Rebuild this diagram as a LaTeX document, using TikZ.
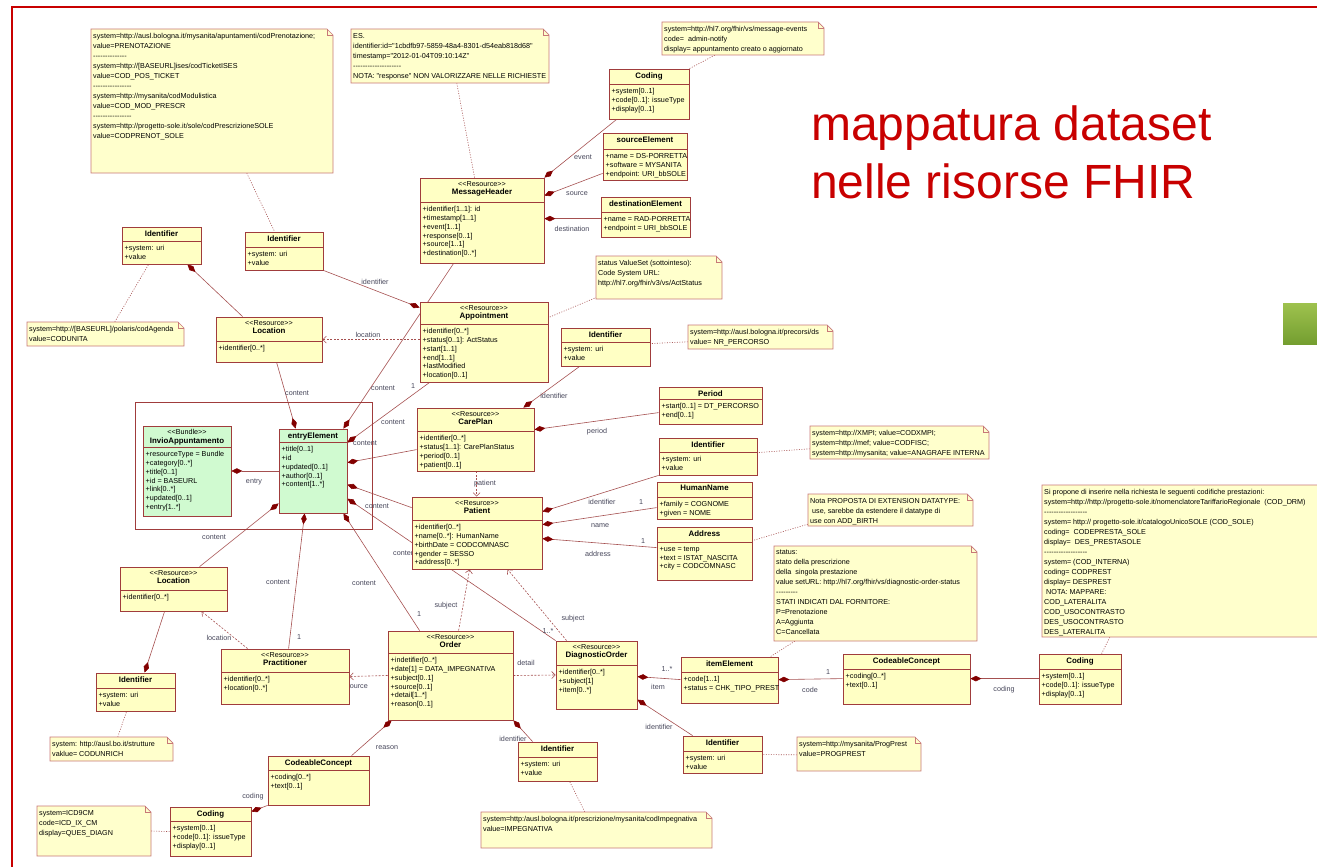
\documentclass[tikz,border=0pt]{standalone}
\usepackage{fontspec}
\usepackage{tikz}
\usetikzlibrary{positioning, arrows.meta, calc, fit}

\newfontfamily\umlfont{Liberation Sans}

\definecolor{classfill}{RGB}{255,255,196}
\definecolor{notefill}{RGB}{255,255,204}
\definecolor{greenfill}{RGB}{208,250,208}
\definecolor{boxred}{RGB}{160,60,60}
\definecolor{notered}{RGB}{200,120,120}
\definecolor{linered}{RGB}{165,80,80}
\definecolor{diamondred}{RGB}{130,0,0}
\definecolor{labelgray}{RGB}{70,70,90}
\definecolor{framered}{RGB}{200,0,0}
\definecolor{greenA}{RGB}{158,194,78}
\definecolor{greenB}{RGB}{116,158,48}

\pgfdeclarelayer{bg}
\pgfsetlayers{bg,main}

\tikzset{
	classbox/.style={draw=boxred, line width=0.8pt, inner sep=0pt},
	boxline/.style={draw=boxred, line width=0.8pt},
	headtext/.style={font=\umlfont\fontsize{7.2}{8.7}\selectfont, align=center, inner xsep=0pt, inner ysep=3.5pt},
	attrtext/.style={font=\umlfont\fontsize{7.2}{8.7}\selectfont, align=left, inner xsep=2.5pt, inner ysep=4.5pt},
	notebox/.style={draw=notered, fill=notefill, line width=0.7pt},
	notefold/.style={draw=notered, line width=0.7pt},
	notetext/.style={font=\umlfont\fontsize{7.2}{10}\selectfont, align=left, inner xsep=2pt, inner ysep=4pt},
	comp/.style={draw=linered, line width=0.6pt, -{Diamond[length=11pt,width=5.5pt,color=diamondred]}},
	dep/.style={draw=linered, line width=0.6pt, dash pattern=on 2pt off 1.5pt, -{Straight Barb[length=3.5pt,width=7pt]}},
	anchorline/.style={draw=linered, line width=0.6pt, dash pattern=on 1pt off 1.5pt},
	lbl/.style={font=\umlfont\fontsize{7.2}{8.7}\selectfont, text=labelgray, inner sep=0pt},
	titletext/.style={font=\umlfont\fontsize{48}{58}\selectfont, text=framered, inner sep=0pt},
}

\newcommand{\cname}[1]{{\fontsize{7.9}{8.7}\selectfont\bfseries #1}}

\newcommand{\umlclass}[9][classfill]{%
	\node[classbox, fill=#1, fit={(#3,#4) (#5,#6)}] (#2) {};
	\draw[boxline] (#3,#7) -- (#5,#7);
	\node[headtext, anchor=north] (#2-h) at (#2.north) {#8};
	\node[attrtext, anchor=north west] (#2-a) at (#3,#7) {#9};
}

\newcommand{\umlnote}[6]{%
	\node[inner sep=0pt, fit={(#2,#3) (#4,#5)}] (#1) {};
	\path[notebox] (#2,#3) -- (#4-6,#3) -- (#4,#3+6) -- (#4,#5) -- (#2,#5) -- cycle;
	\draw[notefold] (#4-6,#3) -- (#4-6,#3+6) -- (#4,#3+6);
	\node[notetext, anchor=north west] (#1-t) at (#2,#3) {#6};
}

\begin{document}
\begin{tikzpicture}[x=1pt, y=-1pt]
	\useasboundingbox (0,0) rectangle (1317,867);
	\draw[framered, line width=2.2pt] (12,870) -- (12,7) -- (1320,7);
	\shade[top color=greenA, bottom color=greenB] (1283,303) rectangle (1320,344);
	
	\node[titletext, anchor=base west] (title1) at (811,140) {mappatura dataset};
	\node[titletext, anchor=base west] (title2) at (811,198) {nelle risorse FHIR};
	
	\node[draw=boxred, line width=0.6pt, inner sep=0pt, fit={(135,402) (372,529)}] (bundlepkg) {};
	
	% notes
	\umlnote{n1}{91}{29}{333}{173}{system=http://ausl.bologna.it/mysanita/apuntamenti/codPrenotazione;\\value=PRENOTAZIONE\\--------------\\system=http://[BASEURL]ises/codTicketISES\\value=COD\_POS\_TICKET\\----------------\\system=http://mysanita/codModulistica\\value=COD\_MOD\_PRESCR\\----------------\\system=http://progetto-sole.it/sole/codPrescrizioneSOLE\\value=CODPRENOT\_SOLE}
	\umlnote{n2}{351}{29}{549}{83}{ES.\\identifier:id="1cbdfb97-5859-48a4-8301-d54eab818d68"\\timestamp="2012-01-04T09:10:14Z"\\--------------------\\NOTA: "response" NON VALORIZZARE NELLE RICHIESTE}
	\umlnote{n3}{662}{22}{824}{55}{system=http://hl7.org/fhir/vs/message-events\\code=\ \ admin-notify\\display= appuntamento creato o aggiornato}
	\umlnote{n4}{596}{256}{722}{299}{status ValueSet (sottointeso):\\Code System URL:\\http://hl7.org/fhir/v3/vs/ActStatus}
	\umlnote{n5}{27}{322}{184}{346}{system=http://[BASEURL]/polaris/codAgenda\\value=CODUNITA}
	\umlnote{n6}{688}{325}{833}{349}{system=http://ausl.bologna.it/precorsi/ds\\value= NR\_PERCORSO}
	\umlnote{n7}{810}{426}{989}{459}{system=http://XMPI; value=CODXMPI;\\system=http://mef; value=CODFISC;\\system=http://mysanita; value=ANAGRAFE INTERNA}
	\umlnote{n8}{808}{494}{973}{526}{Nota PROPOSTA DI EXTENSION DATATYPE:\\\ use, sarebbe da estendere il datatype di\\use con ADD\_BIRTH}
	\umlnote{n9}{774}{546}{977}{641}{status:\\stato della prescrizione\\della\ \ singola prestazione\\value setURL: http://hl7.org/fhir/vs/diagnostic-order-status\\---------\\STATI INDICATI DAL FORNITORE:\\P=Prenotazione\\A=Aggiunta\\C=Cancellata}
	\umlnote{n10}{1042}{485}{1330}{637}{Si propone di inserire nella richiesta le seguenti codifiche prestazioni:\\system=http://http://progetto-sole.it/nomenclatoreTariffarioRegionale\ \ (COD\_DRM)\\------------------\\system= http:// progetto-sole.it/catalogoUnicoSOLE (COD\_SOLE)\\coding=\ \ CODEPRESTA\_SOLE\\display=\ \ DES\_PRESTASOLE\\------------------\\system= (COD\_INTERNA)\\coding= CODPREST\\display= DESPREST\\\ NOTA: MAPPARE:\\COD\_LATERALITA\\COD\_USOCONTRASTO\\DES\_USOCONTRASTO\\DES\_LATERALITA}
	\umlnote{n11}{50}{737}{173}{761}{system: http://ausl.bo.it/strutture\\vaklue= CODUNRICH}
	\umlnote{n12}{797}{737}{921}{771}{system=http://mysanita/ProgPrest\\value=PROGPREST}
	\umlnote{n13}{481}{812}{712}{848}{system=http:/ausl.bologna.it/prescrizione/mysanita/codImpegnativa\\value=IMPEGNATIVA}
	\umlnote{n14}{37}{806}{151}{856}{system=ICD9CM\\code=ICD\_IX\_CM\\display=QUES\_DIAGN}
	
	% classes
	\umlclass{coding1}{609}{69}{689}{119}{84}{\cname{Coding}}{+system[0..1]\\+code[0..1]: issueType\\+display[0..1]}
	\umlclass{srcel}{603}{133}{687}{180}{149}{\cname{sourceElement}}{+name = DS-PORRETTA\\+software = MYSANITA\\+endpoint: URI\_bbSOLE}
	\umlclass{dstel}{601}{197}{690}{237}{212}{\cname{destinationElement}}{+name = RAD-PORRETTA\\+endpoint = URI\_bbSOLE}
	\umlclass{msghdr}{420}{178}{544}{263}{202}{<<Resource>>\\\cname{MessageHeader}}{+identifier[1..1]: id\\+timestamp[1..1]\\+event[1..1]\\+response[0..1]\\+source[1..1]\\+destination[0..*]}
	\umlclass{ident1}{122}{227}{201}{264}{241}{\cname{Identifier}}{+system: uri\\+value}
	\umlclass{ident2}{245}{232}{323}{270}{247}{\cname{Identifier}}{+system: uri\\+value}
	\umlclass{loc1}{216}{317}{322}{362}{341}{<<Resource>>\\\cname{Location}}{+identifier[0..*]}
	\umlclass{appt}{420}{302}{548}{382}{324}{<<Resource>>\\\cname{Appointment}}{+identifier[0..*]\\+status[0..1]: ActStatus\\+start[1..1]\\+end[1..1]\\+lastModified\\+location[0..1]}
	\umlclass{ident3}{561}{328}{650}{366}{342}{\cname{Identifier}}{+system: uri\\+value}
	\umlclass{period}{659}{387}{762}{424}{399}{\cname{Period}}{+start[0..1] = DT\_PERCORSO\\+end[0..1]}
	\umlclass{careplan}{417}{408}{534}{471}{431}{<<Resource>>\\\cname{CarePlan}}{+identifier[0..*]\\+status[1..1]: CarePlanStatus\\+period[0..1]\\+patient[0..1]}
	\umlclass{ident4}{659}{438}{757}{475}{452}{\cname{Identifier}}{+system: uri\\+value}
	\umlclass{hname}{657}{482}{752}{519}{497}{\cname{HumanName}}{+family = COGNOME\\+given = NOME}
	\umlclass{addr}{657}{527}{752}{580}{542}{\cname{Address}}{+use = temp\\+text = ISTAT\_NASCITA\\+city = CODCOMNASC}
	\umlclass{patient}{412}{497}{542}{569}{520}{<<Resurce>>\\\cname{Patient}}{+identifier[0..*]\\+name[0..*]: HumanName\\+birthDate = CODCOMNASC\\+gender = SESSO\\+address[0..*]}
	\umlclass[greenfill]{entryel}{279}{429}{347}{513}{442}{\cname{entryElement}}{+title[0..1]\\+id\\+updated[0..1]\\+author[0..1]\\+content[1..*]}
	\umlclass[greenfill]{invio}{143}{426}{231}{516}{447}{<<Bundle>>\\\cname{InvioAppuntamento}}{+resourceType = Bundle\\+category[0..*]\\+title[0..1]\\+id = BASEURL\\+link[0..*]\\+updated[0..1]\\+entry[1..*]}
	\umlclass{loc2}{120}{567}{227}{611}{590}{<<Resource>>\\\cname{Location}}{+identifier[0..*]}
	\umlclass{ident5}{96}{673}{175}{711}{688}{\cname{Identifier}}{+system: uri\\+value}
	\umlclass{pract}{221}{649}{349}{704}{672}{<<Resource>>\\\cname{Practitioner}}{+identifier[0..*]\\+location[0..*]}
	\umlclass{order}{388}{631}{513}{720}{653}{<<Resource>>\\\cname{Order}}{+indetifier[0..*]\\+date[1] = DATA\_IMPEGNATIVA\\+subject[0..1]\\+source[0..1]\\+detail[1..*]\\+reason[0..1]}
	\umlclass{diagord}{556}{641}{637}{709}{665}{<<Resource>>\\\cname{DiagnosticOrder}}{+identifier[0..*]\\+subject[1]\\+item[0..*]}
	\umlclass{itemel}{681}{657}{778}{703}{672}{\cname{itemElement}}{+code[1..1]\\+status = CHK\_TIPO\_PREST}
	\umlclass{cc1}{843}{654}{970}{704}{669}{\cname{CodeableConcept}}{+coding[0..*]\\+text[0..1]}
	\umlclass{coding2}{1039}{654}{1121}{704}{669}{\cname{Coding}}{+system[0..1]\\+code[0..1]: issueType\\+display[0..1]}
	\umlclass{ident6}{683}{736}{762}{773}{751}{\cname{Identifier}}{+system: uri\\+value}
	\umlclass{ident7}{518}{742}{597}{781}{757}{\cname{Identifier}}{+system: uri\\+value}
	\umlclass{cc2}{268}{756}{369}{805}{770}{\cname{CodeableConcept}}{+coding[0..*]\\+text[0..1]}
	\umlclass{coding3}{170}{807}{251}{856}{821}{\cname{Coding}}{+system[0..1]\\+code[0..1]: issueType\\+display[0..1]}
	
	\begin{pgfonlayer}{bg}
		% compositions
		\draw[comp] ($(coding1.south west)+(8,0)$) -- (msghdr.north east);
		\draw[comp] ($(srcel.south west)+(0,-7)$) -- ($(msghdr.north east)+(0,18)$);
		\draw[comp] ($(dstel.north west)+(0,22)$) -- ($(msghdr.north east)+(0,41)$);
		\draw[comp] ($(msghdr.south west)+(34,0)$) -- ($(entryel.north east)+(-4,0)$);
		\draw[comp] ($(appt.south west)+(10,0)$) -- ($(entryel.north east)+(0,14)$);
		\draw[comp] (ident2.south east) -- ($(appt.north west)+(0,6)$);
		\draw[comp] ($(ident3.south west)+(19,0)$) -- ($(careplan.north east)+(-11,0)$);
		\draw[comp] ($(period.north west)+(0,26)$) -- ($(careplan.north east)+(0,22)$);
		\draw[comp] ($(careplan.north west)+(0,42)$) -- ($(entryel.north east)+(0,34)$);
		\draw[comp] ($(patient.north west)+(0,11)$) -- ($(entryel.north east)+(0,56)$);
		\draw[comp] (diagord.north west) -- ($(entryel.north east)+(0,70)$);
		\draw[comp] (ident4.south west) -- ($(patient.north east)+(0,15)$);
		\draw[comp] ($(hname.north west)+(0,26)$) -- ($(patient.north east)+(0,28)$);
		\draw[comp] ($(addr.north west)+(0,21)$) -- ($(patient.north east)+(0,42)$);
		\draw[comp] ($(cc1.north west)+(0,25)$) -- ($(itemel.north east)+(0,23)$);
		\draw[comp] ($(itemel.north west)+(0,23)$) -- ($(diagord.north east)+(0,36)$);
		\draw[comp] ($(coding2.north west)+(0,25)$) -- ($(cc1.north east)+(0,25)$);
		\draw[comp] ($(ident6.north west)+(10,0)$) -- ($(diagord.north east)+(0,59)$);
		\draw[comp] ($(order.north west)+(32,0)$) -- ($(entryel.south east)+(-4,0)$);
		\draw[comp] ($(pract.north west)+(68,0)$) -- ($(entryel.south west)+(26,0)$);
		\draw[comp] ($(loc2.north west)+(80,0)$) -- ($(entryel.south west)+(0,-10)$);
		\draw[comp] (entryel.west) -- (invio.east);
		\draw[comp] ($(loc1.south west)+(61,0)$) -- ($(entryel.north west)+(17,0)$);
		\draw[comp] ($(loc1.north west)+(27,0)$) -- ($(ident1.south east)+(-14,0)$);
		\draw[comp] ($(loc2.south west)+(45,0)$) -- ($(ident5.north west)+(49,0)$);
		\draw[comp] ($(cc2.north west)+(84,0)$) -- ($(order.south west)+(4,0)$);
		\draw[comp] (cc2.south west) -- ($(coding3.north east)+(0,5)$);
		\draw[comp] ($(ident7.north west)+(15,0)$) -- (order.south east);
		% dependencies
		\draw[dep] ($(appt.north west)+(0,38)$) -- ($(loc1.north east)+(0,23)$);
		\draw[dep] ($(careplan.south west)+(60,0)$) -- ($(patient.north west)+(65,0)$);
		\draw[dep] ($(order.north west)+(71,0)$) -- ($(patient.south west)+(58,0)$);
		\draw[dep] ($(diagord.north west)+(11,0)$) -- ($(patient.south west)+(96,0)$);
		\draw[dep] (order.east) -- (diagord.west);
		\draw[dep] (order.west) -- (pract.east);
		\draw[dep] ($(pract.north west)+(27,0)$) -- ($(loc2.south west)+(82,0)$);
		% note anchors
		\draw[anchorline] ($(n3.south west)+(53,0)$) -- (coding1.north east);
		\draw[anchorline] ($(n2.south west)+(106,0)$) -- ($(msghdr.north west)+(55,0)$);
		\draw[anchorline] ($(n1.south west)+(156,0)$) -- ($(ident2.north west)+(30,0)$);
		\draw[anchorline] ($(n4.south west)+(1,-2)$) -- ($(appt.north east)+(0,16)$);
		\draw[anchorline] ($(n6.north west)+(0,17)$) -- ($(ident3.north east)+(0,16)$);
		\draw[anchorline] ($(n5.north west)+(88,0)$) -- ($(ident1.south west)+(27,0)$);
		\draw[anchorline] ($(n7.north west)+(0,23)$) -- ($(ident4.north east)+(0,15)$);
		\draw[anchorline] ($(n8.south west)+(0,-2)$) -- ($(addr.north east)+(0,14)$);
		\draw[anchorline] ($(n9.south west)+(21,0)$) -- ($(itemel.north east)+(-8,0)$);
		\draw[anchorline] ($(n10.south west)+(68,0)$) -- ($(coding2.north west)+(63,0)$);
		\draw[anchorline] ($(n11.north west)+(68,0)$) -- ($(ident5.south west)+(31,0)$);
		\draw[anchorline] ($(n12.north west)+(0,18)$) -- ($(ident6.north east)+(0,19)$);
		\draw[anchorline] ($(n13.north west)+(104,0)$) -- ($(ident7.south west)+(52,0)$);
		\draw[anchorline] (n14.east) -- ($(coding3.north west)+(0,25)$);
		% labels half hidden by boxes
		\node[lbl, anchor=west] (lbContDiag) at (393,553) {content};
		\node[lbl, anchor=west] (lbSourcePract) at (346,687) {source};
	\end{pgfonlayer}
	
	% labels
	\node[lbl] (lbEvent) at (583,157) {event};
	\node[lbl] (lbSource) at (577,194) {source};
	\node[lbl] (lbDest) at (572,229) {destination};
	\node[lbl] (lbIdAppt) at (375,282) {identifier};
	\node[lbl] (lbLocAppt) at (368,335) {location};
	\node[lbl] (lbContLoc1) at (297,393) {content};
	\node[lbl] (lbContMsg) at (383,388) {content};
	\node[lbl] (lbOneMsg) at (413,386) {1};
	\node[lbl] (lbContAppt) at (393,422) {content};
	\node[lbl] (lbContCare) at (365,443) {content};
	\node[lbl] (lbIdCare) at (554,396) {identifier};
	\node[lbl] (lbPeriod) at (597,432) {period};
	\node[lbl] (lbPatient) at (485,484) {patient};
	\node[lbl] (lbIdPat) at (602,502) {identifier};
	\node[lbl] (lbOneName) at (641,502) {1};
	\node[lbl] (lbName) at (600,526) {name};
	\node[lbl] (lbOneAddr) at (643,541) {1};
	\node[lbl] (lbAddress) at (598,554) {address};
	\node[lbl] (lbContPat) at (377,506) {content};
	\node[lbl] (lbManyDiag) at (548,631) {1..*};
	\node[lbl] (lbSubjOrder) at (446,606) {subject};
	\node[lbl] (lbSubjDiag) at (573,619) {subject};
	\node[lbl] (lbDetail) at (526,663) {detail};
	\node[lbl] (lbLocPract) at (219,638) {location};
	\node[lbl] (lbContLoc2) at (214,537) {content};
	\node[lbl] (lbContPract) at (278,582) {content};
	\node[lbl] (lbOnePract) at (299,637) {1};
	\node[lbl] (lbContOrder) at (364,583) {content};
	\node[lbl] (lbOneOrder) at (419,614) {1};
	\node[lbl] (lbEntry) at (254,482) {entry};
	\node[lbl] (lbManyItem) at (667,669) {1..*};
	\node[lbl] (lbItem) at (658,687) {item};
	\node[lbl] (lbOneCode) at (828,672) {1};
	\node[lbl] (lbCode) at (810,690) {code};
	\node[lbl] (lbCoding) at (1004,690) {coding};
	\node[lbl] (lbIdDiag) at (659,727) {identifier};
	\node[lbl] (lbIdOrder) at (513,739) {identifier};
	\node[lbl] (lbReason) at (387,748) {reason};
	\node[lbl] (lbCoding2) at (253,797) {coding};
\end{tikzpicture}
\end{document}
